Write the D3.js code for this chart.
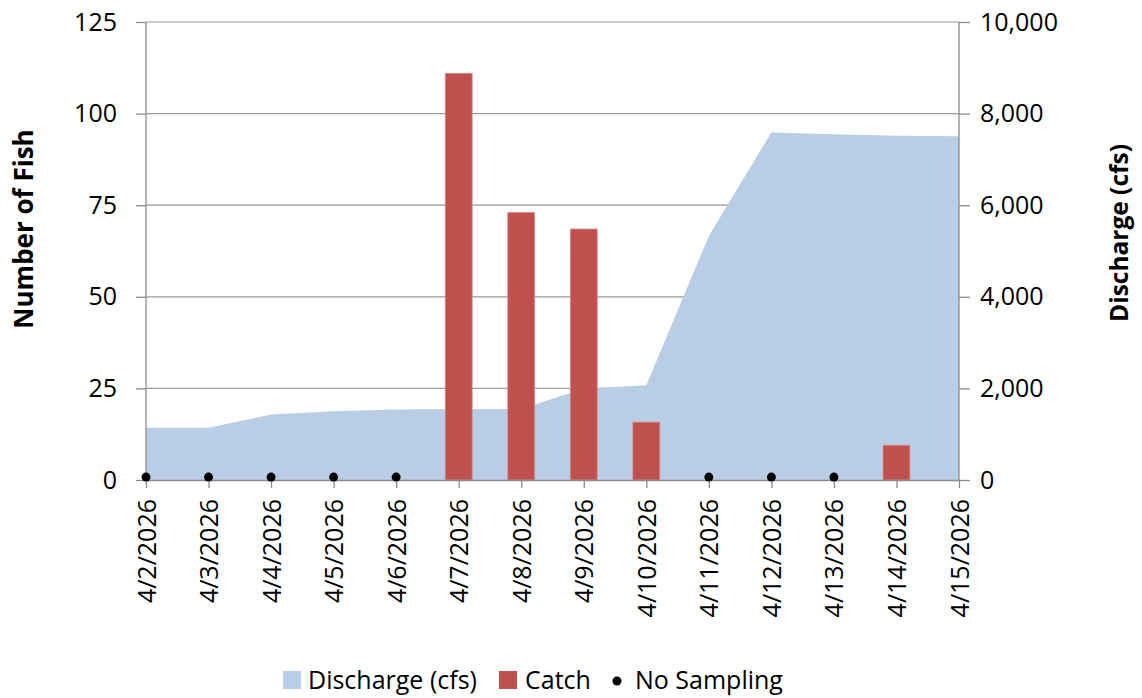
<!DOCTYPE html>
<html>
<head>
<meta charset="utf-8">
<script src="https://cdn.jsdelivr.net/npm/d3@7"></script>
<style>
  body { margin: 0; background: #fff; }
  text { font-family: "Open Sans", sans-serif; fill: #000; }
</style>
</head>
<body>
<svg id="chart" width="1142" height="698"></svg>
<script>
// data
const dates = ["4/2/2026", "4/3/2026", "4/4/2026", "4/5/2026", "4/6/2026", "4/7/2026", "4/8/2026",
  "4/9/2026", "4/10/2026", "4/11/2026", "4/12/2026", "4/13/2026", "4/14/2026", "4/15/2026"];
const discharge = [1140, 1140, 1430, 1500, 1540, 1550, 1550, 2000, 2070, 5330, 7590, 7550, 7515, 7505];
const catchCount = [0, 0, 0, 0, 0, 111, 73, 68.5, 15.8, 0, 0, 0, 9.5, 0];
const noSampling = ["4/2/2026", "4/3/2026", "4/4/2026", "4/5/2026", "4/6/2026", "4/11/2026", "4/12/2026", "4/13/2026"];
const leftTicks = [0, 25, 50, 75, 100, 125];
const rightTicks = [0, 2000, 4000, 6000, 8000, 10000];

const svg = d3.select("#chart");
const plotL = 146, plotR = 959, plotT = 22, plotB = 480;

const x = d3.scalePoint().domain(dates).range([plotL, plotR]);
const yL = d3.scaleLinear().domain([0, 125]).range([plotB, plotT]);
const yR = d3.scaleLinear().domain([0, 10000]).range([plotB, plotT]);

const axisColor = "#8c8c8c";

// gridlines
svg.append("g")
  .selectAll("line")
  .data(leftTicks.slice(1))
  .enter().append("line")
  .attr("x1", plotL).attr("x2", plotR)
  .attr("y1", d => yL(d)).attr("y2", d => yL(d))
  .attr("stroke", "#9a9a9a").attr("stroke-width", 1.2);

// discharge area
const area = d3.area()
  .x((d, i) => x(dates[i]))
  .y0(plotB)
  .y1(d => yR(d));
svg.append("path")
  .datum(discharge)
  .attr("fill", "#B9CDE5")
  .attr("d", area);

// catch bars
const bw = x.step() * 0.43;
svg.append("g")
  .selectAll("rect")
  .data(dates.map((d, i) => ({ date: d, v: catchCount[i] })).filter(d => d.v > 0))
  .enter().append("rect")
  .attr("x", d => x(d.date) - bw / 2)
  .attr("y", d => yL(d.v))
  .attr("width", bw)
  .attr("height", d => plotB - yL(d.v))
  .attr("fill", "#C0504D")
  .attr("stroke", "#d98b88")
  .attr("stroke-width", 0.8);

// axes
const fontPx = 25;
const yAxisL = d3.axisLeft(yL).tickValues(leftTicks).tickSize(10).tickPadding(19);
const gL = svg.append("g").attr("transform", `translate(${plotL},0)`).call(yAxisL);
const yAxisR = d3.axisRight(yR).tickValues(rightTicks).tickSize(11).tickPadding(10)
  .tickFormat(d3.format(","));
const gR = svg.append("g").attr("transform", `translate(${plotR},0)`).call(yAxisR);
const xAxis = d3.axisBottom(x).tickSize(8).tickSizeOuter(0);
const gX = svg.append("g").attr("transform", `translate(0,${plotB})`).call(xAxis);

[gL, gR, gX].forEach(g => {
  g.select(".domain").attr("stroke", axisColor).attr("stroke-width", 1.3);
  g.selectAll(".tick line").attr("stroke", axisColor).attr("stroke-width", 1.3);
  g.selectAll("text").attr("font-family", "Open Sans").style("font-size", fontPx + "px").attr("fill", "#000");
});
gL.select(".domain").attr("d", `M0,${plotB}V${plotT}`);
gR.select(".domain").attr("d", `M0,${plotB}V${plotT}`);

gX.selectAll(".tick text")
  .attr("transform", "rotate(-90)")
  .attr("text-anchor", "end")
  .attr("x", -19)
  .attr("y", 0)
  .attr("dy", "0.36em");

// no-sampling markers
svg.append("g")
  .selectAll("circle")
  .data(noSampling)
  .enter().append("circle")
  .attr("cx", d => x(d))
  .attr("cy", yL(0.8))
  .attr("r", 4.5)
  .attr("fill", "#000");

// axis titles
svg.append("text")
  .attr("transform", "translate(33,229) rotate(-90)")
  .attr("text-anchor", "middle")
  .style("font-size", "26px")
  .style("font-weight", "bold")
  .text("Number of Fish");
svg.append("text")
  .attr("transform", "translate(1128,233) rotate(-90)")
  .attr("text-anchor", "middle")
  .style("font-size", "24.5px")
  .style("font-weight", "bold")
  .text("Discharge (cfs)");

// legend
const legend = svg.append("g").style("font-size", fontPx + "px");
legend.append("rect").attr("x", 283).attr("y", 671).attr("width", 18).attr("height", 18).attr("fill", "#B9CDE5");
legend.append("text").attr("x", 308).attr("y", 689).text("Discharge (cfs)");
legend.append("rect").attr("x", 499).attr("y", 671).attr("width", 18).attr("height", 18).attr("fill", "#C0504D");
legend.append("text").attr("x", 525).attr("y", 689).text("Catch");
legend.append("circle").attr("cx", 617).attr("cy", 681).attr("r", 4.5).attr("fill", "#000");
legend.append("text").attr("x", 635).attr("y", 689).text("No Sampling");
</script>
</body>
</html>
